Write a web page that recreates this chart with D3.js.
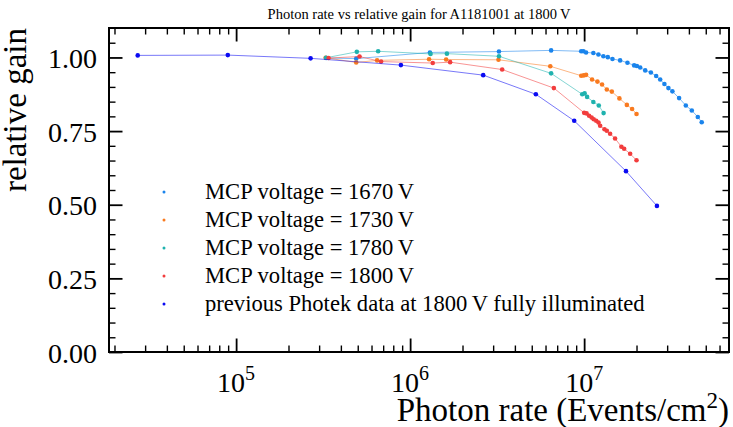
<!DOCTYPE html>
<html><head><meta charset="utf-8">
<script src="https://cdn.jsdelivr.net/npm/d3@7"></script>
<style>
body{margin:0;background:#fff}
svg{display:block}
text{font-family:"Liberation Serif","Times New Roman",serif;fill:#000}
</style>
</head><body>
<svg id="c" width="733" height="427"></svg>
<script>
// ---- data ----
const rate1670 = [3.29e5, 4.90e5, 1.30e6, 3.24e6, 6.46e6, 9.62e6, 9.91e6, 1.026e7, 1.13e7, 1.208e7, 1.29e7, 1.368e7, 1.455e7, 1.61e7, 1.774e7, 1.938e7, 2.01e7, 2.1e7, 2.244e7, 2.418e7, 2.594e7, 2.735e7, 2.893e7, 3.05e7, 3.215e7, 3.513e7, 3.84e7, 4.156e7, 4.5e7, 4.74e7];
const gain1670 = [0.998, 0.996, 1.017, 1.020, 1.024, 1.021, 1.021, 1.017, 1.015, 1.010, 1.004, 1.001, 0.995, 0.990, 0.982, 0.973, 0.971, 0.966, 0.956, 0.949, 0.937, 0.925, 0.910, 0.896, 0.885, 0.862, 0.837, 0.820, 0.798, 0.780];

const rate1730 = [3.27e5, 4.90e5, 6.46e5, 1.285e6, 1.61e6, 3.22e6, 6.39e6, 9.62e6, 9.94e6, 1.026e7, 1.111e7, 1.192e7, 1.268e7, 1.35e7, 1.442e7, 1.595e7, 1.76e7, 1.887e7, 2.0e7];
const gain1730 = [0.999, 0.983, 0.990, 0.994, 0.993, 0.992, 0.970, 0.938, 0.939, 0.941, 0.925, 0.918, 0.908, 0.891, 0.884, 0.861, 0.839, 0.825, 0.808];

const rate1780 = [3.29e5, 4.94e5, 6.55e5, 1.31e6, 1.627e6, 3.24e6, 6.46e6, 9.75e6, 1.007e7, 1.04e7, 1.13e7, 1.214e7, 1.294e7];
const gain1780 = [0.999, 1.019, 1.021, 1.012, 1.013, 1.004, 0.946, 0.875, 0.878, 0.866, 0.849, 0.837, 0.811];

const rate1800 = [3.40e5, 5.12e5, 6.81e5, 1.349e6, 1.698e6, 3.38e6, 6.70e6, 1.0e7, 1.033e7, 1.068e7, 1.104e7, 1.135e7, 1.173e7, 1.209e7, 1.236e7, 1.309e7, 1.35e7, 1.41e7, 1.506e7, 1.637e7, 1.698e7, 1.838e7, 2.0e7];
const gain1800 = [0.998, 1.003, 0.986, 0.981, 0.984, 0.959, 0.896, 0.812, 0.810, 0.802, 0.796, 0.790, 0.785, 0.779, 0.768, 0.756, 0.751, 0.741, 0.725, 0.697, 0.690, 0.673, 0.651];

const ratePrev = [2.72e4, 8.96e4, 2.68e5, 8.85e5, 2.63e6, 5.28e6, 8.77e6, 1.74e7, 2.62e7];
const gainPrev = [1.007, 1.008, 0.997, 0.974, 0.940, 0.875, 0.785, 0.614, 0.496];

const seriesLabels = ["MCP voltage = 1670\u2009V", "MCP voltage = 1730\u2009V", "MCP voltage = 1780\u2009V", "MCP voltage = 1800\u2009V", "previous Photek data at 1800\u2009V fully illuminated"];
const xMajorTicks = [1e5, 1e6, 1e7];
const xTickExponents = ["5", "6", "7"];
const yMajorTicks = [0, 0.25, 0.5, 0.75, 1.0];
const yTickLabels = ["0.00", "0.25", "0.50", "0.75", "1.00"];
const titleText = "Photon rate vs relative gain for A1181001 at 1800\u2009V";
const xLabelMain = "Photon rate (Events/cm";
const xLabelSup = "2";
const yLabelText = "relative gain";

// ---- styles ----
const colors = ["#1a84ec", "#f97a1f", "#1fb2ae", "#f23d3d", "#0a0af2"];

const svg = d3.select("#c");
const L = 109, R = 729, T = 28, B = 352;
const x = d3.scaleLog().domain([1.86e4, 6.8e7]).range([L, R]);
const y = d3.scaleLinear().domain([0, 1.1]).range([B, T]);

const rates = [rate1670, rate1730, rate1780, rate1800, ratePrev];
const gains = [gain1670, gain1730, gain1780, gain1800, gainPrev];

// minor ticks
const xMinor = [];
for (let e = 4; e <= 7; e++) for (let m = 2; m <= 9; m++) { const v = m * Math.pow(10, e); if (v >= x.domain()[0] && v <= x.domain()[1]) xMinor.push(v); }
const yMinor = d3.range(0, 23).map(i => +(i * 0.05).toFixed(2)).filter(v => !yMajorTicks.includes(v) && v < 1.1);

const MAJ = 13.5, MIN = 6.5;
function styleAxis(g, w) {
  g.select(".domain").remove();
  g.selectAll(".tick line").attr("stroke", "#000").attr("stroke-width", w);
}
// bottom
svg.append("g").attr("transform", `translate(0,${B})`).call(d3.axisBottom(x).tickValues(xMajorTicks).tickSize(-MAJ).tickFormat("")).call(g => styleAxis(g, 1.8));
svg.append("g").attr("transform", `translate(0,${B})`).call(d3.axisBottom(x).tickValues(xMinor).tickSize(-MIN).tickFormat("")).call(g => styleAxis(g, 1.4));
// top
svg.append("g").attr("transform", `translate(0,${T})`).call(d3.axisTop(x).tickValues(xMajorTicks).tickSize(-MAJ).tickFormat("")).call(g => styleAxis(g, 1.8));
svg.append("g").attr("transform", `translate(0,${T})`).call(d3.axisTop(x).tickValues(xMinor).tickSize(-MIN).tickFormat("")).call(g => styleAxis(g, 1.4));
// left
svg.append("g").attr("transform", `translate(${L},0)`).call(d3.axisLeft(y).tickValues(yMajorTicks).tickSize(-MAJ).tickPadding(12).tickFormat((d, i) => yTickLabels[i]))
  .call(g => { styleAxis(g, 1.8); g.selectAll("text").attr("font-size", 28).attr("font-family", "Liberation Serif").attr("dy", "0.36em"); });
svg.append("g").attr("transform", `translate(${L},0)`).call(d3.axisLeft(y).tickValues(yMinor).tickSize(-MIN).tickFormat("")).call(g => styleAxis(g, 1.4));
// right
svg.append("g").attr("transform", `translate(${R},0)`).call(d3.axisRight(y).tickValues(yMajorTicks).tickSize(-MAJ).tickFormat("")).call(g => styleAxis(g, 1.8));
svg.append("g").attr("transform", `translate(${R},0)`).call(d3.axisRight(y).tickValues(yMinor).tickSize(-MIN).tickFormat("")).call(g => styleAxis(g, 1.4));

// x tick labels 10^n
const xl = svg.append("g");
xMajorTicks.forEach((v, i) => {
  const t = xl.append("text").attr("x", x(v)).attr("y", 392).attr("text-anchor", "middle").attr("font-size", 28);
  t.append("tspan").text("10");
  t.append("tspan").attr("font-size", 20).attr("dy", -12).text(xTickExponents[i]);
});

// frame
svg.append("rect").attr("x", L).attr("y", T).attr("width", R - L).attr("height", B - T)
  .attr("fill", "none").attr("stroke", "#000").attr("stroke-width", 2);

// data
svg.append("clipPath").attr("id", "clp").append("rect").attr("x", L).attr("y", T).attr("width", R - L).attr("height", B - T);
const plot = svg.append("g").attr("clip-path", "url(#clp)");
const line = d3.line().x(d => x(d[0])).y(d => y(d[1]));
rates.forEach((r, s) => {
  const pts = r.map((v, i) => [v, gains[s][i]]);
  plot.append("path").datum(pts).attr("d", line).attr("fill", "none")
    .attr("stroke", colors[s]).attr("stroke-opacity", 0.55).attr("stroke-width", 1);
  plot.selectAll(null).data(pts).join("circle")
    .attr("cx", d => x(d[0])).attr("cy", d => y(d[1])).attr("r", 2.3).attr("fill", colors[s]);
});

// legend
const legY = [192, 220, 248, 276, 304];
seriesLabels.forEach((lab, i) => {
  svg.append("circle").attr("cx", 164).attr("cy", legY[i]).attr("r", 1.5).attr("fill", colors[i]);
  svg.append("text").attr("x", 205).attr("y", legY[i]).attr("dy", "0.33em").attr("font-size", 22.6).text(lab);
});

// title
svg.append("text").attr("x", (L + R) / 2).attr("y", 19).attr("text-anchor", "middle").attr("font-size", 14.5).text(titleText);

// x label
const xt = svg.append("text").attr("x", R).attr("y", 421).attr("text-anchor", "end").attr("font-size", 33);
xt.append("tspan").text(xLabelMain);
xt.append("tspan").attr("font-size", 23).attr("dy", -13).text(xLabelSup);
xt.append("tspan").attr("dy", 13).text(")");

// y label
svg.append("text").attr("transform", `translate(26,${T}) rotate(-90)`).attr("text-anchor", "end").attr("font-size", 33).text(yLabelText);
</script>
</body></html>
